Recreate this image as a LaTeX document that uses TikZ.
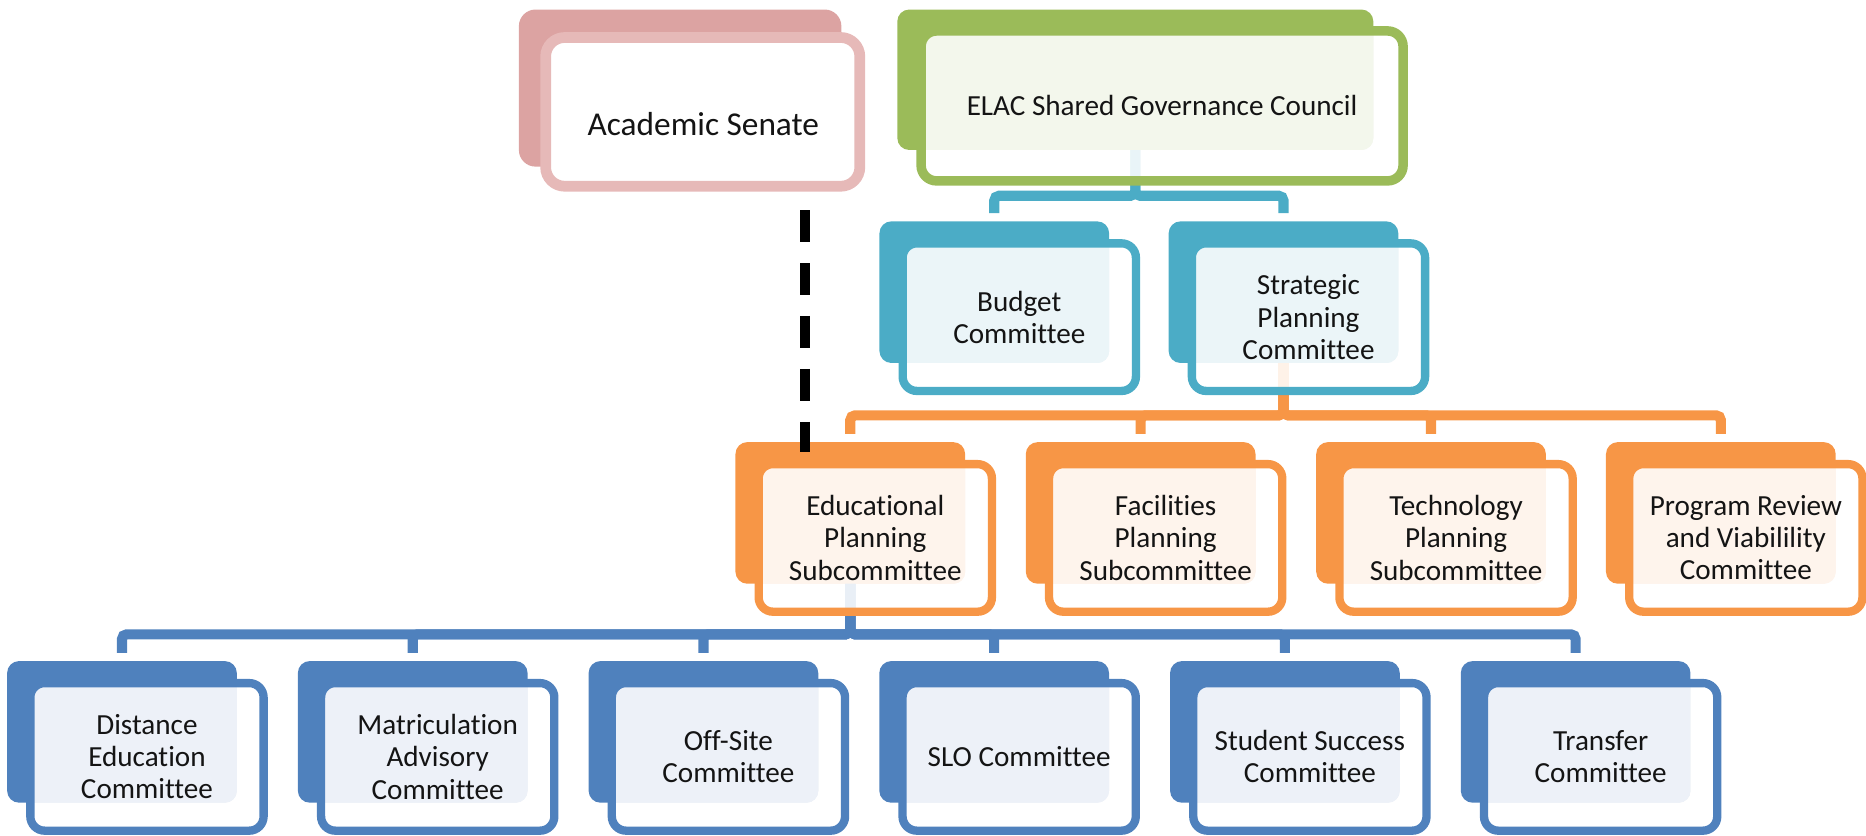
\documentclass[tikz,border=0pt]{standalone}
\usepackage{fontspec}
\setmainfont{Carlito}[Ligatures=NoCommon]
\usetikzlibrary{calc}
\definecolor{asback}{HTML}{DCA3A2}
\definecolor{asfront}{HTML}{E6B9B8}
\definecolor{gr}{HTML}{9BBB59}
\definecolor{grt}{HTML}{F3F7EC}
\definecolor{te}{HTML}{4BACC6}
\definecolor{tet}{HTML}{EBF5F8}
\definecolor{or}{HTML}{F79646}
\definecolor{ort}{HTML}{FEF4EC}
\definecolor{bl}{HTML}{4F81BD}
\definecolor{blt}{HTML}{EDF1F8}
\definecolor{txt}{HTML}{141414}
\pgfdeclarelayer{bg}
\pgfdeclarelayer{mid}
\pgfsetlayers{bg,mid,main}
\tikzset{
  backbox/.style={fill=#1, rounded corners=10pt, minimum width=193pt, minimum height=119pt,
    anchor=north west, inner sep=0pt, outer sep=0pt},
  frontbox/.style={draw=#1, line width=7pt, fill=white, fill opacity=0.88, text opacity=1,
    rounded corners=12pt, minimum width=196pt, minimum height=124pt,
    anchor=north west, inner sep=0pt, outer sep=0pt},
  boxtext/.style={font=\fontsize{24.5}{27}\selectfont, text=txt, align=center, inner sep=0pt},
  conn/.style={draw=#1, line width=8.5pt, rounded corners=4pt, shorten >=7pt},
  senateline/.style={draw=black, line width=8.4pt, dash pattern=on 27pt off 17.5pt},
}
\newcommand\orgbox[6]{%
  \begin{pgfonlayer}{bg}
    \node[backbox=#4] (#1b) at (#2,#3) {};
  \end{pgfonlayer}
  \node[frontbox=#4, path picture={\fill[#5, fill opacity=1, rounded corners=10pt]
      (#1b.north west) rectangle (#1b.south east);}] (#1) at (#2+19.5,#3+18.5) {};
  \node[boxtext] (#1t) at (#1.center) {#6};
}
\begin{document}
\begin{tikzpicture}[x=1pt, y=-1pt]
\useasboundingbox (0,0) rectangle (1568,702);

% Academic Senate
\begin{pgfonlayer}{bg}
  \node[fill=asback, rounded corners=14pt, minimum width=271pt, minimum height=132pt,
        anchor=north west, inner sep=0pt, outer sep=0pt] (ASb) at (436,8) {};
\end{pgfonlayer}
\node[draw=asfront, line width=9pt, fill=white, rounded corners=16pt, minimum width=264pt,
      minimum height=125pt, anchor=north west, inner sep=0pt, outer sep=0pt] (AS) at (458.5,31.5) {};
\node[font=\fontsize{28}{30}\selectfont, text=txt, inner sep=0pt, anchor=base] (ASt) at (591,113.5) {Academic Senate};

% ELAC Shared Governance Council
\begin{pgfonlayer}{bg}
  \node[fill=gr, rounded corners=10pt, minimum width=400pt, minimum height=118pt,
        anchor=north west, inner sep=0pt, outer sep=0pt] (ELACb) at (754,8) {};
\end{pgfonlayer}
\node[draw=gr, line width=8pt, fill=white, fill opacity=0.88, rounded corners=13pt,
      minimum width=405pt, minimum height=126pt, anchor=north west, inner sep=0pt, outer sep=0pt,
      path picture={\fill[grt, fill opacity=1, rounded corners=10pt] (ELACb.north west) rectangle (ELACb.south east);}]
      (ELAC) at (774,26) {};
\node[boxtext] (ELACt) at (ELAC.center) {ELAC Shared Governance Council};

% second tier
\orgbox{BUD}{739}{186}{te}{tet}{Budget\\Committee}
\orgbox{SPC}{982}{186}{te}{tet}{Strategic\\Planning\\Committee}

% third tier
\orgbox{EP}{618}{371.5}{or}{ort}{Educational\\Planning\\Subcommittee}
\orgbox{FP}{862}{371.5}{or}{ort}{Facilities\\Planning\\Subcommittee}
\orgbox{TP}{1106}{371.5}{or}{ort}{Technology\\Planning\\Subcommittee}
\orgbox{PR}{1349.5}{371.5}{or}{ort}{Program Review\\and Viabilility\\Committee}

% fourth tier
\orgbox{DE}{6}{555.5}{bl}{blt}{Distance\\Education\\Committee}
\orgbox{MA}{250.3}{555.5}{bl}{blt}{Matriculation\\Advisory\\Committee}
\orgbox{OS}{494.6}{555.5}{bl}{blt}{Off-Site\\Committee}
\orgbox{SLO}{738.9}{555.5}{bl}{blt}{SLO Committee}
\orgbox{SS}{983.2}{555.5}{bl}{blt}{Student Success\\Committee}
\orgbox{TR}{1227.5}{555.5}{bl}{blt}{Transfer\\Committee}

% connectors
\coordinate (tbar) at (0,164.5);
\coordinate (obar) at (0,349);
\coordinate (bbar) at (0,533);
\coordinate (dashTop) at (676.5,176.5);
\coordinate (dashBot) at (676.5,380);
\begin{pgfonlayer}{mid}
  \foreach \c in {BUD,SPC}
    \draw[conn=te] (ELACb.south) -- (ELACb.south |- tbar) -| (\c b.north);
  \foreach \c in {EP,FP,TP,PR}
    \draw[conn=or] (SPCb.south) -- (SPCb.south |- obar) -| (\c b.north);
  \foreach \c in {DE,MA,OS,SLO,SS,TR}
    \draw[conn=bl] (EPb.south) -- (EPb.south |- bbar) -| (\c b.north);
  \draw[senateline] (dashTop) -- (dashBot);
\end{pgfonlayer}
\end{tikzpicture}
\end{document}
